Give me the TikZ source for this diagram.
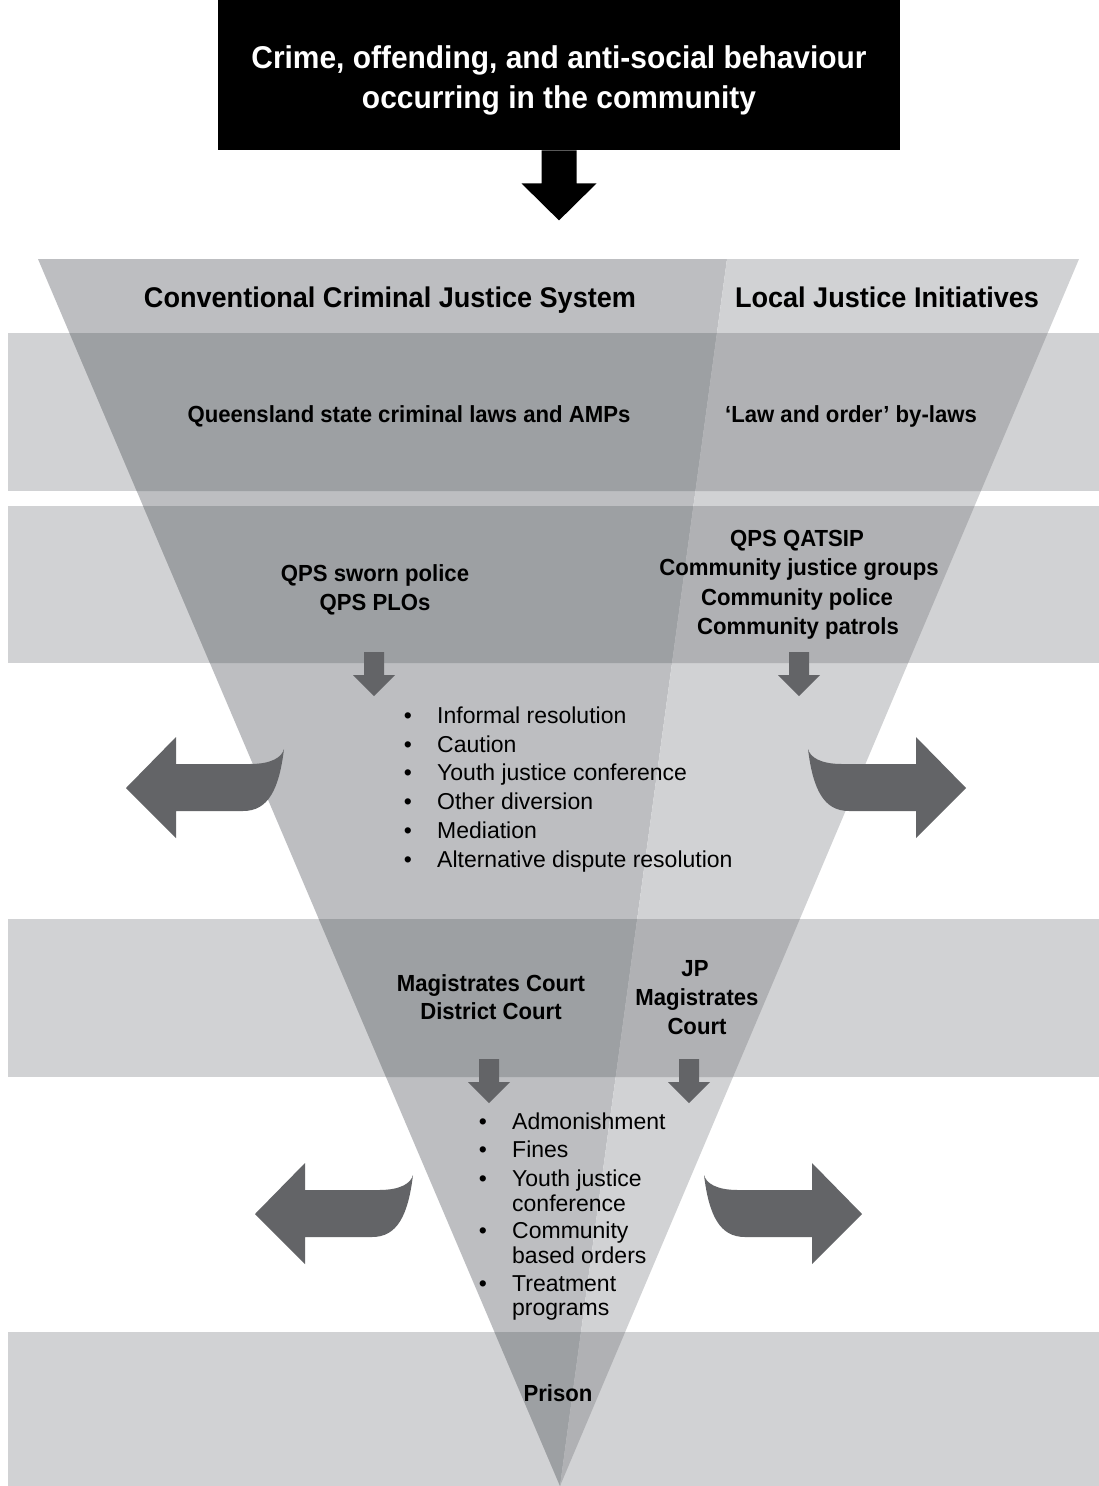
\documentclass[tikz,border=0pt]{standalone}
\usepackage{fontspec}
\setmainfont{Liberation Sans}
\newfontfamily\cbf[FakeStretch=0.95]{Liberation Sans}
\definecolor{bandgray}{HTML}{D1D2D4}
\definecolor{leftgray}{HTML}{BDBEC1}
\definecolor{leftdark}{HTML}{9DA0A3}
\definecolor{rightdark}{HTML}{B0B1B4}
\definecolor{arrowgray}{HTML}{636467}
\tikzset{
  sidearrowL/.pic={\fill[arrowgray] (0,0) -- (50,-51) -- (50,-24) -- (124,-24)
      .. controls (146,-24) and (156,-31) .. (158,-39)
      .. controls (153,2) and (142,23) .. (117,23) -- (50,23) -- (50,50) -- cycle;},
  sidearrowR/.pic={\fill[arrowgray] (0,0) -- (-50,-51) -- (-50,-24) -- (-124,-24)
      .. controls (-146,-24) and (-156,-31) .. (-158,-39)
      .. controls (-153,2) and (-142,23) .. (-117,23) -- (-50,23) -- (-50,50) -- cycle;},
  dnarrow/.pic={\fill[arrowgray] (0,0) -- (-21,-21) -- (-10,-21) -- (-10,-44)
      -- (10,-44) -- (10,-21) -- (21,-21) -- cycle;},
  ttl/.style={inner sep=0pt, anchor=base, text=white, font=\cbf\bfseries\fontsize{31.5}{38}\selectfont},
  hd/.style={inner sep=0pt, anchor=base, font=\cbf\bfseries\fontsize{28.5}{34}\selectfont},
  lb/.style={inner sep=0pt, anchor=base, font=\cbf\bfseries\fontsize{23.3}{28}\selectfont},
  itm/.style={inner sep=0pt, anchor=base west, font=\fontsize{23}{28}\selectfont},
  bul/.style={inner sep=0pt, anchor=base, font=\fontsize{23}{28}\selectfont},
}
\begin{document}
\begin{tikzpicture}[x=1pt,y=-1pt]
\useasboundingbox (0,0) rectangle (1099,1486);
\fill[white] (0,0) rectangle (1099,1486);
% bands
\fill[bandgray] (8,333) rectangle (1099,491);
\fill[bandgray] (8,506) rectangle (1099,663);
\fill[bandgray] (8,919) rectangle (1099,1077);
\fill[bandgray] (8,1332) rectangle (1099,1486);
% funnel
\coordinate (TL) at (38,259);
\coordinate (TM) at (727,259);
\coordinate (TR) at (1079,259);
\coordinate (TP) at (560,1486);
\fill[leftgray] (TL) -- (TM) -- (TP) -- cycle;
\fill[bandgray] (TM) -- (TR) -- (TP) -- cycle;
\begin{scope}
  \clip (8,333) rectangle (1099,491) (8,506) rectangle (1099,663)
        (8,919) rectangle (1099,1077) (8,1332) rectangle (1099,1486);
  \fill[leftdark] (TL) -- (TM) -- (TP) -- cycle;
  \fill[rightdark] (TM) -- (TR) -- (TP) -- cycle;
\end{scope}
% top box and arrow
\node[fill=black, minimum width=682pt, minimum height=150pt, inner sep=0pt, anchor=north] (crimebox) at (559,0) {};
\node[ttl] (crime1) at (559,68) {Crime, offending, and anti-social behaviour};
\node[ttl] (crime2) at (559,108) {occurring in the community};
\fill[black] ([xshift=-17.5pt]crimebox.south) -- ++(0,33) -- ++(-20,0) -- ++(37.5,37)
  -- ++(37.5,-37) -- ++(-20,0) -- ++(0,-33) -- cycle;
% side arrows
\pic at (126,788) {sidearrowL};
\pic at (966,788) {sidearrowR};
\pic at (255,1214) {sidearrowL};
\pic at (862,1214) {sidearrowR};
% small arrows
\pic at (374,696) {dnarrow};
\pic at (799,696) {dnarrow};
\pic at (489,1103) {dnarrow};
\pic at (689,1103) {dnarrow};
% headings
\node[hd] (ccjs) at (390,307) {Conventional Criminal Justice System};
\node[hd] (lji) at (887,307) {Local Justice Initiatives};
% band 1
\node[lb] (qld) at (409,422) {Queensland state criminal laws and AMPs};
\node[lb] (law) at (851,422) {‘Law and order’ by-laws};
% band 2
\node[lb] (qps1) at (375,581) {QPS sworn police};
\node[lb] (qps2) at (375,610) {QPS PLOs};
\node[lb] (loc1) at (797,546) {QPS QATSIP};
\node[lb] (loc2) at (799,575) {Community justice groups};
\node[lb] (loc3) at (797,605) {Community police};
\node[lb] (loc4) at (798,634) {Community patrols};
% list 1
\foreach \y/\t [count=\i] in {723/Informal resolution, 752/Caution, 780/Youth justice conference,
   809/Other diversion, 838/Mediation, 867/Alternative dispute resolution}{
  \node[bul] (ba\i) at (408,\y) {•};
  \node[itm] (ia\i) at (437,\y) {\t};
}
% band 3
\node[lb] (mag1) at (491,991) {Magistrates Court};
\node[lb] (mag2) at (491,1019) {District Court};
\node[lb] (jp1) at (695,976) {JP};
\node[lb] (jp2) at (697,1005) {Magistrates};
\node[lb] (jp3) at (697,1034) {Court};
% list 2
\node[bul] (bb1) at (483,1129) {•};
\node[itm] (ib1) at (512,1129) {Admonishment};
\node[bul] (bb2) at (483,1157) {•};
\node[itm] (ib2) at (512,1157) {Fines};
\node[bul] (bb3) at (483,1186) {•};
\node[itm] (ib3) at (512,1186) {Youth justice};
\node[itm] (ib3b) at (512,1211) {conference};
\node[bul] (bb4) at (483,1238) {•};
\node[itm] (ib4) at (512,1238) {Community};
\node[itm] (ib4b) at (512,1263) {based orders};
\node[bul] (bb5) at (483,1291) {•};
\node[itm] (ib5) at (512,1291) {Treatment};
\node[itm] (ib5b) at (512,1315) {programs};
% band 4
\node[lb] (prison) at (558,1401) {Prison};
\end{tikzpicture}
\end{document}
